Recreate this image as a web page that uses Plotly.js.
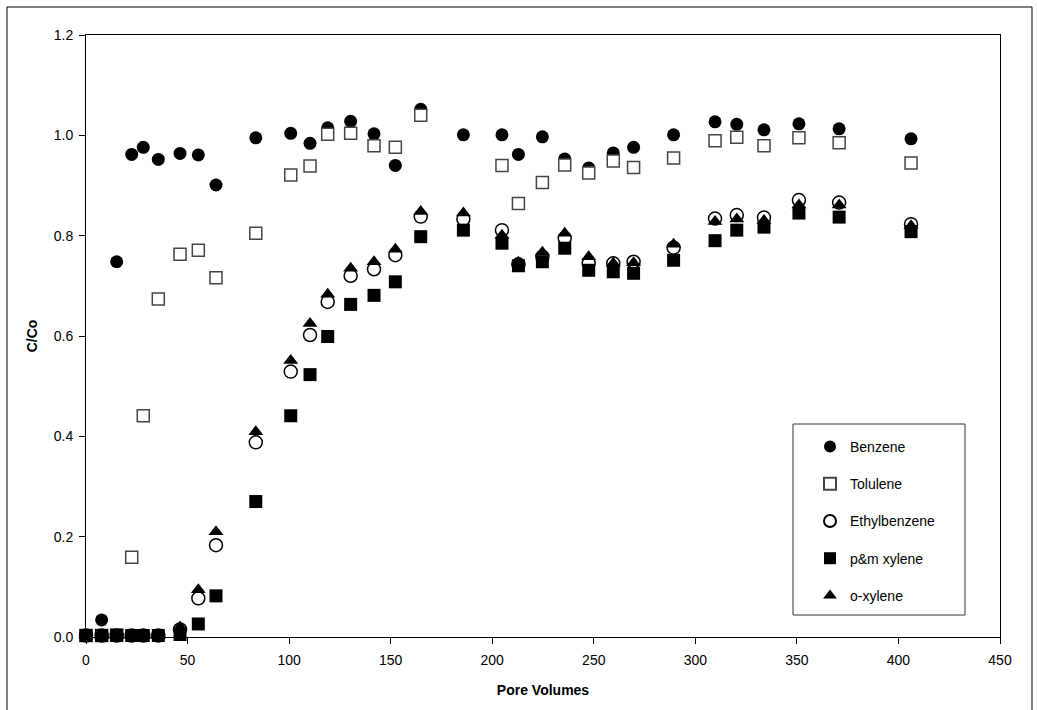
<!DOCTYPE html>
<html>
<head>
<meta charset="utf-8">
<script src="https://cdn.plot.ly/plotly-3.0.1.min.js"></script>
<style>html,body{margin:0;padding:0;background:#fff;}#chart{width:1037px;height:710px;}</style>
</head>
<body>
<div id="chart"></div>
<script>
// Pore volumes (shared x positions)
const poreVolumes = [0, 7.7, 15.1, 22.5, 28.2, 35.6, 46.3, 55.3, 64.0, 83.6, 100.8, 110.3, 119.0, 130.3, 141.8, 152.3, 164.8, 185.8, 204.8, 212.9, 224.7, 235.7, 247.5, 259.6, 269.6, 289.3, 309.7, 320.4, 333.8, 351.0, 370.8, 406.2];

const benzene      = [0.003, 0.034, 0.748, 0.962, 0.976, 0.952, 0.964, 0.961, 0.901, 0.995, 1.004, 0.984, 1.015, 1.028, 1.003, 0.940, 1.052, 1.001, 1.001, 0.962, 0.997, 0.953, 0.935, 0.965, 0.976, 1.001, 1.027, 1.022, 1.011, 1.023, 1.013, 0.993];
const toluene      = [0.003, 0.003, 0.004, 0.159, 0.441, 0.674, 0.763, 0.771, 0.716, 0.805, 0.921, 0.939, 1.002, 1.004, 0.979, 0.976, 1.040, null, 0.940, 0.864, 0.906, 0.941, 0.925, 0.949, 0.936, 0.955, 0.989, 0.996, 0.979, 0.995, 0.985, 0.945];
const ethylbenzene = [0.003, 0.003, 0.003, 0.003, 0.003, 0.003, 0.015, 0.077, 0.183, 0.388, 0.529, 0.602, 0.668, 0.720, 0.733, 0.761, 0.838, 0.833, 0.811, 0.743, 0.758, 0.795, 0.745, 0.745, 0.748, 0.776, 0.834, 0.841, 0.836, 0.871, 0.866, 0.823];
const pmXylene     = [0.003, 0.003, 0.003, 0.003, 0.003, 0.003, 0.005, 0.026, 0.082, 0.270, 0.441, 0.523, 0.599, 0.663, 0.681, 0.708, 0.798, 0.811, 0.785, 0.740, 0.748, 0.775, 0.731, 0.728, 0.725, 0.751, 0.790, 0.811, 0.817, 0.845, 0.837, 0.808];
const oXylene      = [0.003, 0.003, 0.003, 0.003, 0.003, 0.003, 0.020, 0.094, 0.210, 0.409, 0.551, 0.625, 0.683, 0.735, 0.748, 0.773, 0.848, 0.845, 0.801, 0.747, 0.767, 0.805, 0.758, 0.745, 0.746, 0.783, 0.828, 0.833, 0.830, 0.861, 0.861, 0.820];

const seriesNames = ["Benzene", "Tolulene", "Ethylbenzene", "p&m xylene", "o-xylene"];
const xTicks = [0, 50, 100, 150, 200, 250, 300, 350, 400, 450];
const yTicks = [0, 0.2, 0.4, 0.6, 0.8, 1.0, 1.2];

const FONT = "'Liberation Sans', Arial, sans-serif";

function tr(name, y, marker, i) {
  return {
    type: 'scatter', mode: 'markers', name: name, x: poreVolumes, y: y,
    marker: marker, cliponaxis: false, legendgroup: 'g' + i
  };
}

const data = [
  tr(seriesNames[0], benzene, {symbol: 'circle', size: 13, color: '#000000', line: {width: 0}}, 0),
  tr(seriesNames[1], toluene, {symbol: 'square', size: 12, color: '#ffffff', line: {width: 1.5, color: '#444444'}}, 1),
  tr(seriesNames[2], ethylbenzene, {symbol: 'circle', size: 13, color: '#ffffff', line: {width: 1.5, color: '#000000'}}, 2),
  tr(seriesNames[3], pmXylene, {symbol: 'square', size: 13, color: '#000000', line: {width: 0}}, 3),
  tr(seriesNames[4], oXylene, {symbol: 'triangle-up', size: 13, color: '#000000', line: {width: 0}}, 4)
];

const W = 1037, H = 710, L = 86, R = 1000, T = 35, B = 637;
const px = v => (v - L) / (R - L);
const py = v => (B - v) / (B - T);

const layout = {
  width: W, height: H,
  margin: {l: L, r: W - R, t: T, b: H - B, pad: 0},
  paper_bgcolor: '#ffffff', plot_bgcolor: '#ffffff',
  font: {family: FONT, size: 14, color: '#000'},
  showlegend: true,
  legend: {
    x: px(810), y: py(431), xanchor: 'left', yanchor: 'top',
    bgcolor: 'rgba(0,0,0,0)', borderwidth: 0,
    font: {family: FONT, size: 14, color: '#000'},
    traceorder: 'grouped', tracegroupgap: 16,
    itemsizing: 'constant'
  },
  xaxis: {
    range: [0, 450], tickvals: xTicks, ticktext: xTicks.map(String),
    showgrid: false, zeroline: false, showline: true, linecolor: '#000', linewidth: 1, mirror: true,
    ticks: 'outside', ticklen: 6, tickcolor: '#000', tickwidth: 1,
    tickfont: {family: FONT, size: 14}, ticklabelstandoff: 4,
    title: {text: '<b>Pore Volumes</b>', font: {family: FONT, size: 14}, standoff: 18}
  },
  yaxis: {
    range: [0, 1.2], tickvals: yTicks, ticktext: yTicks.map(v => v.toFixed(1)),
    showgrid: false, zeroline: false, showline: true, linecolor: '#000', linewidth: 1, mirror: true,
    ticks: 'outside', ticklen: 6, tickcolor: '#000', tickwidth: 1,
    tickfont: {family: FONT, size: 14}, ticklabelstandoff: 3,
    title: {text: '<b>C/Co</b>', font: {family: FONT, size: 14}, standoff: 12}
  },
  shapes: [
    {type: 'rect', xref: 'paper', yref: 'paper', x0: px(7), x1: px(1032), y0: py(715), y1: py(7), line: {color: '#000', width: 1}, fillcolor: 'rgba(0,0,0,0)', layer: 'below'},
    {type: 'rect', xref: 'paper', yref: 'paper', x0: px(793), x1: px(965), y0: py(615), y1: py(424), line: {color: '#333', width: 1}, fillcolor: '#ffffff', layer: 'below'}
  ]
};

Plotly.newPlot('chart', data, layout, {displayModeBar: false, staticPlot: true});
</script>
</body>
</html>
